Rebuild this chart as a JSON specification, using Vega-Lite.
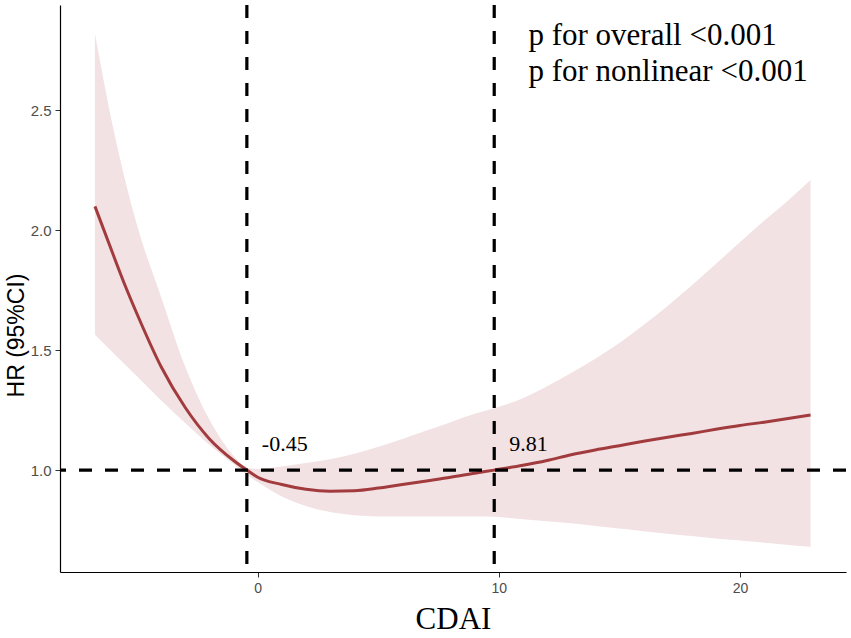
{
  "$schema": "https://vega.github.io/schema/vega-lite/v6.json",
  "width": 786,
  "height": 567,
  "autosize": {"type": "none"},
  "padding": {"left": 60, "top": 5, "right": 5, "bottom": 66},
  "background": "white",
  "config": {
    "view": {"stroke": null},
    "axis": {"grid": false}
  },
  "datasets": {
    "curve": [
      {"x": -6.75, "hr": 2.10, "lo": 1.565, "hi": 2.82},
      {"x": -6.0, "hr": 1.90, "lo": 1.49, "hi": 2.43},
      {"x": -5.5, "hr": 1.77, "lo": 1.44, "hi": 2.21},
      {"x": -5.0, "hr": 1.65, "lo": 1.39, "hi": 2.02},
      {"x": -4.0, "hr": 1.43, "lo": 1.29, "hi": 1.72},
      {"x": -3.0, "hr": 1.26, "lo": 1.195, "hi": 1.43},
      {"x": -2.0, "hr": 1.13, "lo": 1.105, "hi": 1.21},
      {"x": -1.0, "hr": 1.04, "lo": 1.025, "hi": 1.06},
      {"x": -0.45, "hr": 1.0, "lo": 0.98, "hi": 1.01},
      {"x": 0.0, "hr": 0.97, "lo": 0.95, "hi": 1.005},
      {"x": 1.0, "hr": 0.94, "lo": 0.89, "hi": 1.015},
      {"x": 2.0, "hr": 0.92, "lo": 0.85, "hi": 1.03},
      {"x": 3.0, "hr": 0.912, "lo": 0.825, "hi": 1.045},
      {"x": 4.0, "hr": 0.914, "lo": 0.812, "hi": 1.068},
      {"x": 5.0, "hr": 0.925, "lo": 0.807, "hi": 1.097},
      {"x": 6.0, "hr": 0.94, "lo": 0.806, "hi": 1.13},
      {"x": 7.0, "hr": 0.955, "lo": 0.806, "hi": 1.165},
      {"x": 8.0, "hr": 0.97, "lo": 0.806, "hi": 1.20},
      {"x": 9.0, "hr": 0.987, "lo": 0.806, "hi": 1.235},
      {"x": 9.81, "hr": 1.0, "lo": 0.805, "hi": 1.258},
      {"x": 11.0, "hr": 1.02, "lo": 0.795, "hi": 1.30},
      {"x": 12.0, "hr": 1.04, "lo": 0.787, "hi": 1.35},
      {"x": 13.0, "hr": 1.064, "lo": 0.778, "hi": 1.405},
      {"x": 14.0, "hr": 1.084, "lo": 0.767, "hi": 1.465},
      {"x": 15.0, "hr": 1.102, "lo": 0.756, "hi": 1.53},
      {"x": 16.0, "hr": 1.12, "lo": 0.745, "hi": 1.605},
      {"x": 17.0, "hr": 1.137, "lo": 0.735, "hi": 1.685},
      {"x": 18.0, "hr": 1.153, "lo": 0.725, "hi": 1.77},
      {"x": 19.0, "hr": 1.17, "lo": 0.715, "hi": 1.86},
      {"x": 20.0, "hr": 1.186, "lo": 0.706, "hi": 1.95},
      {"x": 21.0, "hr": 1.20, "lo": 0.697, "hi": 2.04},
      {"x": 22.0, "hr": 1.215, "lo": 0.688, "hi": 2.125},
      {"x": 22.93, "hr": 1.23, "lo": 0.68, "hi": 2.21}
    ],
    "cutoffs": [
      {"x": -0.45, "label": "-0.45", "ly": 1.079},
      {"x": 9.81, "label": "9.81", "ly": 1.079}
    ],
    "notes": [
      {"x": 11.23, "y": 2.772, "text": "p for overall <0.001"},
      {"x": 11.23, "y": 2.622, "text": "p for nonlinear <0.001"}
    ]
  },
  "layer": [
    {
      "data": {"name": "curve"},
      "mark": {"type": "area", "color": "#f2e2e4", "opacity": 1, "interpolate": "monotone"},
      "encoding": {
        "x": {
          "field": "x",
          "type": "quantitative",
          "scale": {"domain": [-8.2, 24.4], "nice": false, "zero": false},
          "axis": {
            "values": [0, 10, 20],
            "title": "CDAI",
            "titleFont": "Liberation Serif",
            "titleFontSize": 31,
            "titleFontWeight": "normal",
            "titleColor": "black",
            "titleBaseline": "alphabetic",
            "titleY": 56,
            "labelFont": "Liberation Sans",
            "labelFontSize": 14,
            "labelColor": "#4d4d4d",
            "labelPadding": 4,
            "tickSize": 5,
            "tickColor": "#333333",
            "domainColor": "black",
            "domainWidth": 1.2
          }
        },
        "y": {
          "field": "lo",
          "type": "quantitative",
          "scale": {"domain": [0.575, 2.94], "nice": false, "zero": false},
          "axis": {
            "values": [1.0, 1.5, 2.0, 2.5],
            "format": ".1f",
            "title": "HR (95%CI)",
            "titleFont": "Liberation Sans",
            "titleFontSize": 23,
            "titleFontWeight": "normal",
            "titleColor": "black",
            "titleX": -44,
            "titleY": 330,
            "titleBaseline": "middle",
            "labelFont": "Liberation Sans",
            "labelFontSize": 15,
            "labelColor": "#4d4d4d",
            "labelPadding": 4,
            "tickSize": 5,
            "tickColor": "#333333",
            "domainColor": "black",
            "domainWidth": 1.2
          }
        },
        "y2": {"field": "hi"}
      }
    },
    {
      "data": {"name": "curve"},
      "mark": {"type": "line", "color": "#a23b3e", "strokeWidth": 3, "interpolate": "monotone"},
      "encoding": {
        "x": {"field": "x", "type": "quantitative"},
        "y": {"field": "hr", "type": "quantitative"}
      }
    },
    {
      "data": {"values": [{"ref": 1}]},
      "mark": {"type": "rule", "color": "black", "strokeWidth": 3.2, "strokeDash": [13, 13]},
      "encoding": {"y": {"field": "ref", "type": "quantitative"}}
    },
    {
      "data": {"name": "cutoffs"},
      "mark": {"type": "rule", "color": "black", "strokeWidth": 3.2, "strokeDash": [13, 13]},
      "encoding": {"x": {"field": "x", "type": "quantitative"}}
    },
    {
      "data": {"name": "cutoffs"},
      "mark": {"type": "text", "font": "Liberation Serif", "fontSize": 22, "align": "left", "baseline": "alphabetic", "dx": 15, "color": "black"},
      "encoding": {
        "x": {"field": "x", "type": "quantitative"},
        "y": {"field": "ly", "type": "quantitative"},
        "text": {"field": "label"}
      }
    },
    {
      "data": {"name": "notes"},
      "mark": {"type": "text", "font": "Liberation Serif", "fontSize": 31, "align": "left", "baseline": "alphabetic", "color": "black"},
      "encoding": {
        "x": {"field": "x", "type": "quantitative"},
        "y": {"field": "y", "type": "quantitative"},
        "text": {"field": "text"}
      }
    }
  ]
}
